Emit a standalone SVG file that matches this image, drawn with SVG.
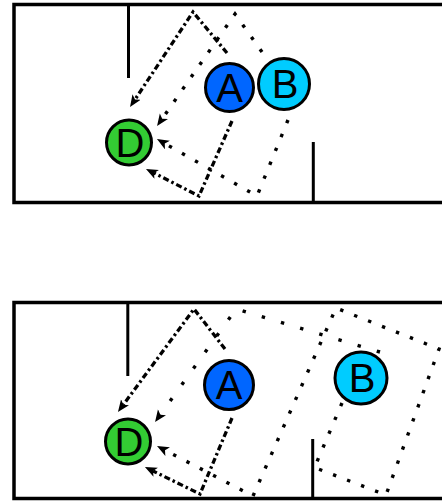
<svg xmlns="http://www.w3.org/2000/svg" width="442" height="502" viewBox="0 0 442 502">
<defs>
<style>
.frame{fill:none;stroke:#000;stroke-width:3.5}
.wall{fill:none;stroke:#000;stroke-width:3}
.dd{fill:none;stroke:#000;stroke-width:3.3;stroke-dasharray:6 3 2.5 3;marker-end:url(#ah)}
.dot{fill:none;stroke:#000;stroke-width:3.4;stroke-dasharray:3.4 11.6;marker-end:url(#ah)}
.dot2{fill:none;stroke:#000;stroke-width:3.4;stroke-dasharray:3.4 16.6;marker-end:url(#ah)}
.node{stroke:#000;stroke-width:3}
.lbl{font-family:"Liberation Sans",Arial,sans-serif;font-size:40px;fill:#000;text-anchor:middle}
</style>
<marker id="ah" markerUnits="userSpaceOnUse" markerWidth="14" markerHeight="12" refX="3" refY="5" orient="auto">
<path d="M0,0 L12,5 L0,10 L3,5 z" fill="#000"/>
</marker>
</defs>
<g id="panel-top">
<rect class="frame" x="14" y="4.5" width="460" height="198"/>
<line class="wall" x1="128.5" y1="5" x2="128.5" y2="78"/>
<line class="wall" x1="313.3" y1="142" x2="313.3" y2="202"/>
</g>
<g id="panel-bottom">
<rect class="frame" x="14" y="302.5" width="460" height="196"/>
<line class="wall" x1="127.8" y1="303" x2="127.8" y2="376"/>
<line class="wall" x1="312.7" y1="439" x2="312.7" y2="498"/>
</g>
<g id="connectors">
<path class="dd" d="M227,53 L193,12 L135,99.5"/>
<path class="dot" d="M262,52 L235,14 L162.2,118.7"/>
<path class="dot" d="M288,120 L257,196 L164.8,143.5"/>
<path class="dd" d="M232,121 L199,196 L154,173"/>
<path class="dd" d="M225,349 L194,309 L123.3,404.7"/>
<path class="dot2" d="M380,352 L236,309 L160.3,414.7"/>
<path class="dot" d="M342,403 L314.5,467.5 L386,495 L439,349 L336,308 L253,496 L165,450.2"/>
<path class="dd" d="M232,418 L200,494 L153,471"/>
</g>
<g id="node-A-top">
<circle class="node" cx="229.5" cy="87.5" r="24" fill="#0066ff"/>
<text class="lbl" x="229.5" y="101.5">A</text>
</g>
<g id="node-B-top">
<circle class="node" cx="284" cy="84" r="25.5" fill="#00ccff"/>
<text class="lbl" x="285" y="98">B</text>
</g>
<g id="node-D-top">
<circle class="node" cx="129" cy="142.5" r="22.5" fill="#33cc33"/>
<text class="lbl" x="130" y="157">D</text>
</g>
<g id="node-A-bottom">
<circle class="node" cx="229" cy="385" r="24.5" fill="#0066ff"/>
<text class="lbl" x="229" y="399">A</text>
</g>
<g id="node-B-bottom">
<circle class="node" cx="361" cy="378" r="26" fill="#00ccff"/>
<text class="lbl" x="362" y="392">B</text>
</g>
<g id="node-D-bottom">
<circle class="node" cx="128" cy="441.5" r="22.5" fill="#33cc33"/>
<text class="lbl" x="129" y="456">D</text>
</g>
</svg>
